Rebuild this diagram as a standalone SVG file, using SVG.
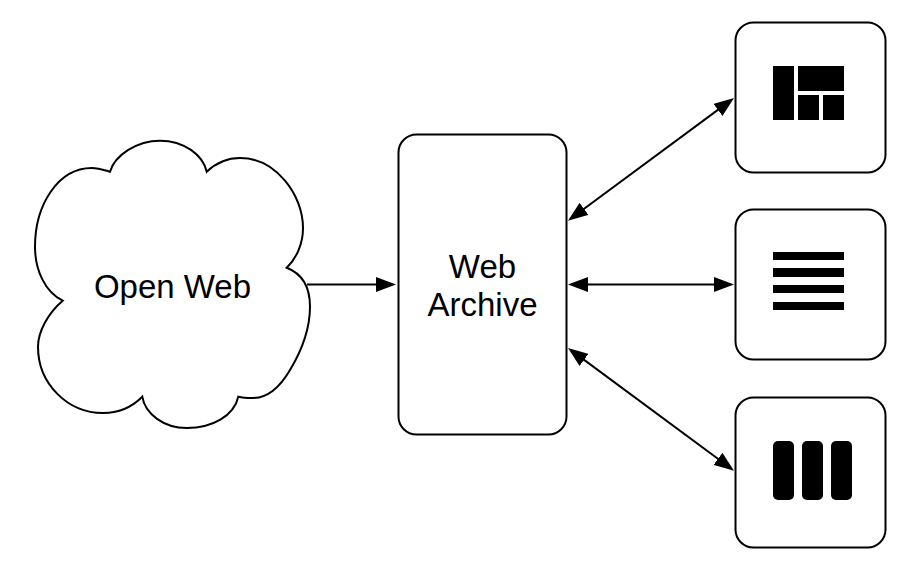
<svg xmlns="http://www.w3.org/2000/svg" width="908" height="570" viewBox="0 0 908 570">
<style>
.shape{fill:#fff;stroke:#000;stroke-width:2}
.line{fill:none;stroke:#000;stroke-width:2}
.ico{fill:#000;stroke:none}
text{font-family:"Liberation Sans",Arial,sans-serif;font-size:33px;fill:#000;text-anchor:middle}
</style>
<defs>
<marker id="end" markerUnits="userSpaceOnUse" markerWidth="20" markerHeight="15" refX="10" refY="7.500" orient="auto"><path d="M0 0L20 7.500L0 15Z" fill="#000"/></marker>
<marker id="start" markerUnits="userSpaceOnUse" markerWidth="20" markerHeight="15" refX="10" refY="7.500" orient="auto"><path d="M20 0L0 7.500L20 15Z" fill="#000"/></marker>
</defs>
<rect width="908" height="570" fill="#fff"/>
<g id="connectors">
<path class="line" d="M307 284.500H386" marker-end="url(#end)"/>
<path class="line" d="M576 214.800L726 103.900" marker-start="url(#start)" marker-end="url(#end)"/>
<path class="line" d="M578 284.500H724" marker-start="url(#start)" marker-end="url(#end)"/>
<path class="line" d="M576 353.900L726 464.800" marker-start="url(#start)" marker-end="url(#end)"/>
</g>
<g id="open-web">
<path class="shape" d="M110 171.700C115 155 137 140.700 160 140.700C184 140.700 203 155 206.700 171.700C216 163 228 158 240 158C276 158 303 195 303 228C303 243 297 258 286.700 267.700C303 274 310 288 310 306.700C310 330 302 350 290 370C280 387 268 398 253 398C247 398 243 398 238.300 396.700C234 416 212 428 186.700 428C164 428 145 414 142.300 396.700C132 407 118 413 103 413C68 413 38 384 38 346.700C38 332 48 313 62.700 300.700C45 292 35 270 35 246.700C35 205 58 168 91.700 168C98 168 104 170 110 171.700Z"/>
<text x="172.500" y="298">Open Web</text>
</g>
<g id="web-archive">
<rect class="shape" x="398.500" y="134.500" width="168" height="300" rx="18"/>
<text x="482.500" y="278">Web</text>
<text x="482.500" y="316">Archive</text>
</g>
<g id="card-mosaic">
<rect class="shape" x="735.500" y="22.500" width="150" height="150" rx="18"/>
<path class="ico" d="M773 66h21v54h-21zM798 66h46v25h-46zM798 95h21v25h-21zM823 95h21v25h-21z"/>
</g>
<g id="card-list">
<rect class="shape" x="735.500" y="209.500" width="150" height="150" rx="18"/>
<path class="ico" d="M773 252h71v8h-71zM773 268h71v9h-71zM773 285h71v8h-71zM773 302h71v8h-71z"/>
</g>
<g id="card-columns">
<rect class="shape" x="735.500" y="397.500" width="150" height="150" rx="18"/>
<rect class="ico" x="773" y="441" width="21" height="59" rx="5"/>
<rect class="ico" x="802" y="441" width="21" height="59" rx="5"/>
<rect class="ico" x="831" y="441" width="21" height="59" rx="5"/>
</g>
</svg>
